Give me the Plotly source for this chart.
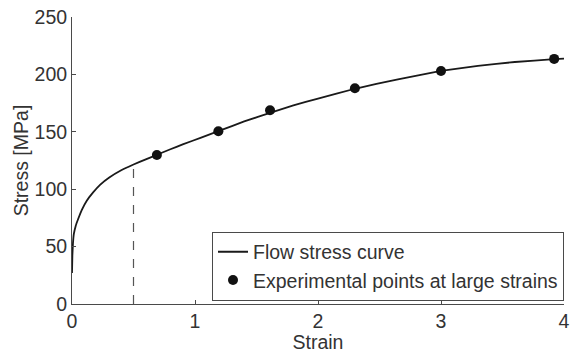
import plotly.graph_objects as go

# Flow stress curve
curve_strain = [0.0, 0.003, 0.008, 0.015, 0.03, 0.05, 0.08, 0.12, 0.17, 0.23, 0.3,
                0.4, 0.5, 0.6, 0.69, 0.8, 0.9, 1.05, 1.2, 1.4, 1.61, 1.8, 2.0,
                2.3, 2.65, 3.0, 3.3, 3.6, 3.92, 4.0]
curve_stress = [27, 42, 53, 61, 68, 74, 82, 90, 97, 104, 110,
                116.5, 121.5, 126, 130, 134.8, 139, 145, 151, 159, 166.5, 173, 179,
                187.5, 195.7, 203, 207.5, 210.8, 213.3, 213.8]

# Experimental points at large strains
exp_strain = [0.69, 1.19, 1.61, 2.3, 3.0, 3.92]
exp_stress = [129.8, 150.5, 168.7, 188, 203, 213.5]

# Dashed marker at threshold strain
threshold_strain = [0.5, 0.5]
threshold_stress = [0, 121.5]

x_ticks = [0, 1, 2, 3, 4]
y_ticks = [0, 50, 100, 150, 200, 250]

txt = "#333333"
axc = "#4a4a4a"
fam = "Liberation Sans, Arial, sans-serif"
fs = 19.5

fig = go.Figure()
fig.add_trace(go.Scatter(x=threshold_strain, y=threshold_stress, mode="lines",
                         line=dict(color="#555555", width=1.2, dash="dash"),
                         showlegend=False, hoverinfo="skip"))
fig.add_trace(go.Scatter(x=curve_strain, y=curve_stress, mode="lines",
                         line=dict(color="#1a1a1a", width=1.8, shape="spline", smoothing=0.3),
                         name="Flow stress curve"))
fig.add_trace(go.Scatter(x=exp_strain, y=exp_stress, mode="markers",
                         marker=dict(color="#111111", size=10),
                         name="Experimental points at large strains"))

fig.update_layout(
    width=576, height=353,
    margin=dict(l=72, r=6, t=15, b=49),
    paper_bgcolor="white", plot_bgcolor="white",
    font=dict(family=fam, size=fs, color=txt),
    legend=dict(x=1, xanchor="right", y=0.012, yanchor="bottom",
                bordercolor=axc, borderwidth=1, bgcolor="white",
                font=dict(family=fam, size=fs, color=txt),
                tracegroupgap=0, itemwidth=30),
    xaxis=dict(range=[0, 4], tickvals=x_ticks, ticks="inside", ticklen=4,
               tickcolor=axc, showline=True, linecolor=axc, linewidth=1,
               showgrid=False, zeroline=False, mirror=False,
               tickfont=dict(family=fam, size=fs, color=txt),
               title=dict(text="Strain", standoff=0, font=dict(family=fam, size=fs, color=txt))),
    yaxis=dict(range=[0, 250], tickvals=y_ticks, ticks="inside", ticklen=4,
               tickcolor=axc, showline=True, linecolor=axc, linewidth=1,
               showgrid=False, zeroline=False, mirror=False,
               tickfont=dict(family=fam, size=fs, color=txt),
               title=dict(text="Stress [MPa]", standoff=0, font=dict(family=fam, size=fs, color=txt))),
)

fig.write_html("out.html")
